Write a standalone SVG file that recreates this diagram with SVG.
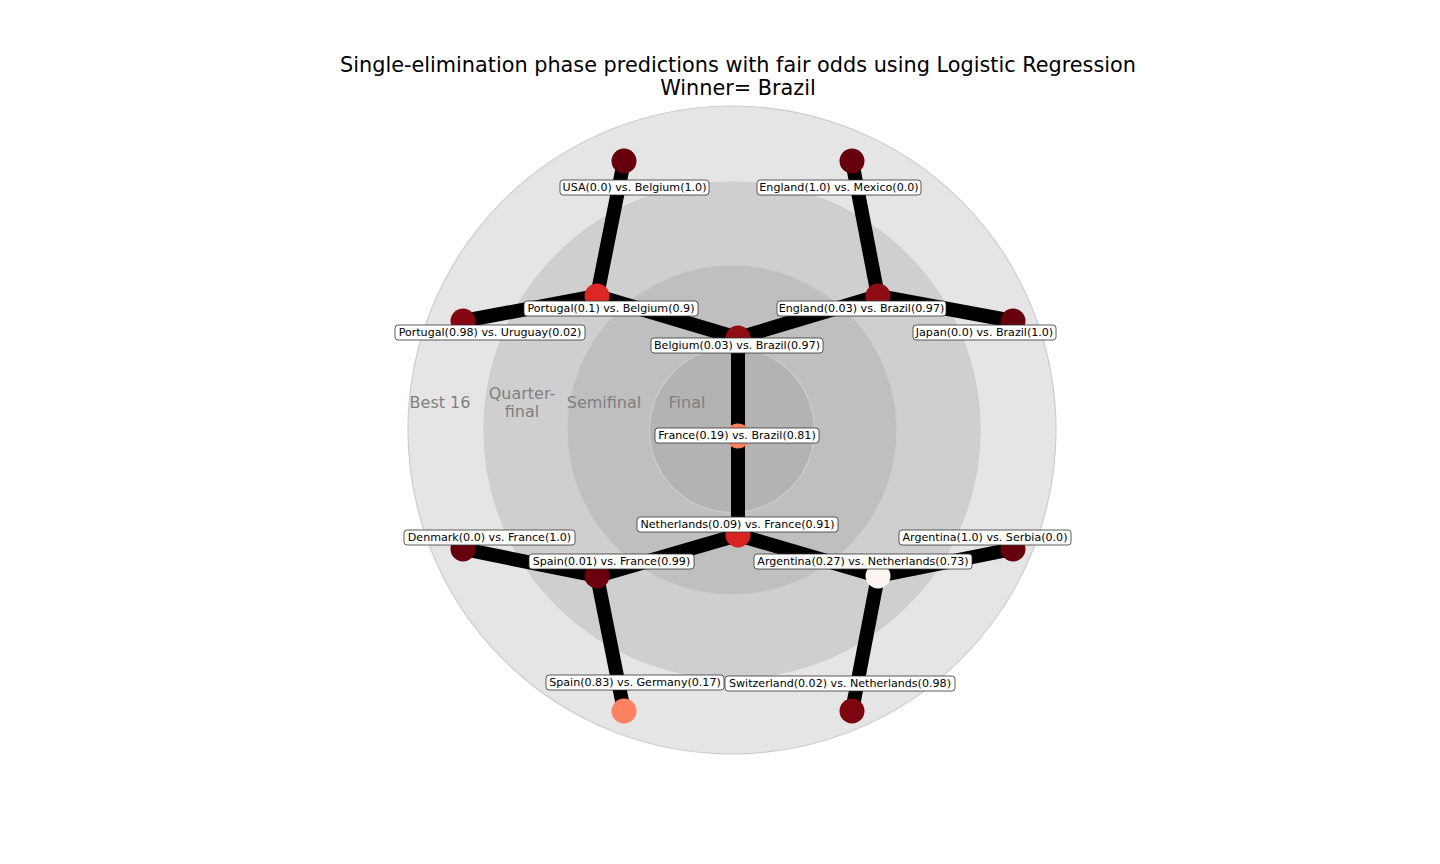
<svg xmlns="http://www.w3.org/2000/svg" width="1440" height="864" viewBox="0 0 1440 864">
<style>
.ring{stroke:#cdcdcd;stroke-width:1.2}
.edge{stroke:#000;stroke-width:14;stroke-linecap:butt}
.lbl rect{fill:#fff;stroke:#333;stroke-width:0.8}
.lbl text{font-family:"DejaVu Sans",sans-serif;font-size:11.1px;fill:#000;text-anchor:middle;dominant-baseline:central}
.stage{font-family:"DejaVu Sans",sans-serif;font-size:16px;fill:#808080;text-anchor:middle}
.title{font-family:"DejaVu Sans",sans-serif;font-size:20.8px;fill:#000;text-anchor:middle}
</style>
<rect width="1440" height="864" fill="#fff"/>
<g id="rings">
<circle class="ring" cx="732" cy="430" r="324" fill="#e5e5e5"/>
<circle class="ring" cx="732" cy="430" r="248" fill="#cfcfcf"/>
<circle class="ring" cx="732" cy="430" r="165" fill="#bfbfbf"/>
<circle class="ring" cx="732" cy="430" r="82.5" fill="#b3b3b3"/>
</g>
<g id="title">
<text class="title" x="738" y="72">Single-elimination phase predictions with fair odds using Logistic Regression</text>
<text class="title" x="738" y="95">Winner= Brazil</text>
</g>
<g id="stages">
<text class="stage" x="440" y="408">Best 16</text>
<text class="stage" x="522" y="399">Quarter-</text>
<text class="stage" x="522" y="417">final</text>
<text class="stage" x="604" y="408">Semifinal</text>
<text class="stage" x="687" y="408">Final</text>
</g>
<g id="connectors">
<line class="edge" x1="738" y1="436" x2="738" y2="338"/>
<line class="edge" x1="738" y1="436" x2="738" y2="535"/>
<line class="edge" x1="738" y1="338" x2="597" y2="296"/>
<line class="edge" x1="738" y1="338" x2="878" y2="296"/>
<line class="edge" x1="738" y1="535" x2="597" y2="576"/>
<line class="edge" x1="738" y1="535" x2="878" y2="576"/>
<line class="edge" x1="597" y1="296" x2="624" y2="161"/>
<line class="edge" x1="597" y1="296" x2="463" y2="321"/>
<line class="edge" x1="878" y1="296" x2="852" y2="161"/>
<line class="edge" x1="878" y1="296" x2="1013" y2="321"/>
<line class="edge" x1="597" y1="576" x2="463" y2="549"/>
<line class="edge" x1="597" y1="576" x2="624" y2="711"/>
<line class="edge" x1="878" y1="576" x2="1013" y2="549"/>
<line class="edge" x1="878" y1="576" x2="852" y2="711"/>
</g>
<g id="nodes">
<circle id="n-usa-bel" cx="624" cy="161" r="12.5" fill="#67000d"/>
<circle id="n-eng-mex" cx="852" cy="161" r="12.5" fill="#67000d"/>
<circle id="n-por-uru" cx="463" cy="321" r="12.5" fill="#840711"/>
<circle id="n-jap-bra" cx="1013" cy="321" r="12.5" fill="#67000d"/>
<circle id="n-por-bel" cx="597" cy="296" r="12.5" fill="#db2824"/>
<circle id="n-eng-bra" cx="878" cy="296" r="12.5" fill="#8e0c14"/>
<circle id="n-bel-bra" cx="738" cy="338" r="12.5" fill="#900d14"/>
<circle id="n-fra-bra" cx="738" cy="436" r="12.5" fill="#fc8262"/>
<circle id="n-ned-fra" cx="738" cy="535" r="12.5" fill="#d72322"/>
<circle id="n-den-fra" cx="463" cy="549" r="12.5" fill="#67000d"/>
<circle id="n-spa-fra" cx="597" cy="576" r="12.5" fill="#6a000d"/>
<circle id="n-arg-ned" cx="878" cy="576" r="12.5" fill="#fff5f0"/>
<circle id="n-arg-ser" cx="1013" cy="549" r="12.5" fill="#67000d"/>
<circle id="n-spa-ger" cx="624" cy="711" r="12.5" fill="#fc8262"/>
<circle id="n-sui-ned" cx="852" cy="711" r="12.5" fill="#7d0510"/>
</g>
<g id="labels">
<g class="lbl"><rect x="560" y="180" width="149" height="15" rx="3"/><text x="634.5" y="187.5">USA(0.0) vs. Belgium(1.0)</text></g>
<g class="lbl"><rect x="757" y="180" width="164" height="15" rx="3"/><text x="839" y="187.5">England(1.0) vs. Mexico(0.0)</text></g>
<g class="lbl"><rect x="524" y="301" width="174" height="15" rx="3"/><text x="611" y="308.5">Portugal(0.1) vs. Belgium(0.9)</text></g>
<g class="lbl"><rect x="777" y="301" width="169" height="15" rx="3"/><text x="861.5" y="308.5">England(0.03) vs. Brazil(0.97)</text></g>
<g class="lbl"><rect x="395" y="325" width="190" height="15" rx="3"/><text x="490" y="332.5">Portugal(0.98) vs. Uruguay(0.02)</text></g>
<g class="lbl"><rect x="913" y="325" width="143" height="15" rx="3"/><text x="984.5" y="332.5">Japan(0.0) vs. Brazil(1.0)</text></g>
<g class="lbl"><rect x="651" y="338" width="172" height="15" rx="3"/><text x="737" y="345.5">Belgium(0.03) vs. Brazil(0.97)</text></g>
<g class="lbl"><rect x="655" y="428" width="164" height="15" rx="3"/><text x="737" y="435.5">France(0.19) vs. Brazil(0.81)</text></g>
<g class="lbl"><rect x="637" y="517" width="201" height="15" rx="3"/><text x="737.5" y="524.5">Netherlands(0.09) vs. France(0.91)</text></g>
<g class="lbl"><rect x="404" y="530" width="171" height="15" rx="3"/><text x="489.5" y="537.5">Denmark(0.0) vs. France(1.0)</text></g>
<g class="lbl"><rect x="899" y="530" width="172" height="15" rx="3"/><text x="985" y="537.5">Argentina(1.0) vs. Serbia(0.0)</text></g>
<g class="lbl"><rect x="529" y="554" width="165" height="15" rx="3"/><text x="611.5" y="561.5">Spain(0.01) vs. France(0.99)</text></g>
<g class="lbl"><rect x="754" y="554" width="218" height="15" rx="3"/><text x="863" y="561.5">Argentina(0.27) vs. Netherlands(0.73)</text></g>
<g class="lbl"><rect x="546" y="675" width="178" height="15" rx="3"/><text x="635" y="682.5">Spain(0.83) vs. Germany(0.17)</text></g>
<g class="lbl"><rect x="725" y="676" width="230" height="15" rx="3"/><text x="840" y="683.5">Switzerland(0.02) vs. Netherlands(0.98)</text></g>
</g>
</svg>
